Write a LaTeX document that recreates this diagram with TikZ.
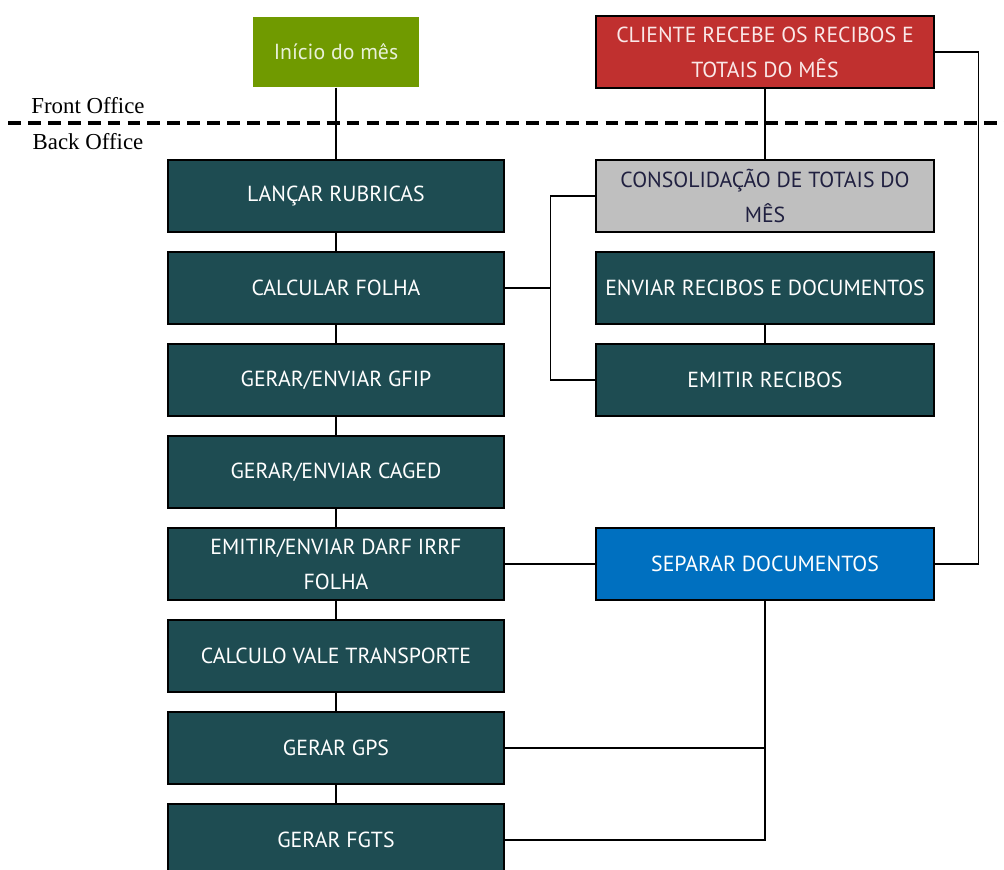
\documentclass[tikz,border=0pt]{standalone}
\usepackage{fontspec}
\setmainfont{Liberation Serif}
\newfontfamily\boxfont{PT Sans}
\definecolor{stageteal}{RGB}{30,76,82}
\definecolor{startgreen}{RGB}{112,154,0}
\definecolor{clientred}{RGB}{192,48,47}
\definecolor{sortblue}{RGB}{0,112,192}
\definecolor{sumgray}{RGB}{191,191,191}
\definecolor{sumtext}{RGB}{32,32,64}
\tikzset{
  stage/.style={draw=black, line width=1.2pt, fill=stageteal, text=white,
    minimum width=10.08cm, minimum height=2.16cm, inner sep=0pt, align=center,
    font=\boxfont\fontsize{18.6}{30}\selectfont},
  sidestage/.style={stage, minimum width=10.14cm},
  link/.style={line width=1.1pt},
}
\begin{document}
\begin{tikzpicture}[x=0.03cm, y=-0.03cm]
  \useasboundingbox (0,0) rectangle (1004,870);

  % front / back office split
  \draw[line width=3pt, dash pattern=on 11pt off 6pt] (8,123) -- (1004,123);
  \node[font=\fontsize{19.5}{22}\selectfont] (front) at (88,106) {Front Office};
  \node[font=\fontsize{19.5}{22}\selectfont] (back) at (88,142) {Back Office};

  \node[stage, draw=none, fill=startgreen, text={rgb,255:red,232;green,240;blue,216},
    minimum width=4.98cm, minimum height=2.1cm] (inicio) at (336,52) {Início do mês};
  \node[sidestage, fill=clientred, text={rgb,255:red,250;green,232;blue,232}] (cliente) at (765,52)
    {CLIENTE RECEBE OS RECIBOS E\\TOTAIS DO MÊS};

  % left column
  \node[stage] (lancar) at (336,196) {LANÇAR RUBRICAS};
  \node[stage] (calcular) at (336,288) {CALCULAR FOLHA};
  \node[stage] (gfip) at (336,380) {GERAR/ENVIAR GFIP};
  \node[stage] (caged) at (336,472) {GERAR/ENVIAR CAGED};
  \node[stage] (darf) at (336,564) {EMITIR/ENVIAR DARF IRRF\\FOLHA};
  \node[stage] (transporte) at (336,656) {CALCULO VALE TRANSPORTE};
  \node[stage] (gps) at (336,748) {GERAR GPS};
  \node[stage] (fgts) at (336,840) {GERAR FGTS};

  % right column
  \node[sidestage, fill=sumgray, text=sumtext] (consolid) at (765,196) {CONSOLIDAÇÃO DE TOTAIS DO\\MÊS};
  \node[sidestage] (enviar) at (765,288) {ENVIAR RECIBOS E DOCUMENTOS};
  \node[sidestage] (emitirrec) at (765,380) {EMITIR RECIBOS};
  \node[sidestage, fill=sortblue] (separar) at (765,564) {SEPARAR DOCUMENTOS};

  \foreach \a/\b in {inicio/lancar, lancar/calcular, calcular/gfip, gfip/caged,
      caged/darf, darf/transporte, transporte/gps, gps/fgts}
    \draw[link] (\a) -- (\b);

  \draw[link] (cliente) -- (consolid);
  \draw[link] (enviar) -- (emitirrec);
  \draw[link] (calcular.east) -- ++(46,0) coordinate (fork);
  \draw[link] (fork) |- (consolid.west);
  \draw[link] (fork) |- (emitirrec.west);
  \draw[link] (darf) -- (separar);
  \draw[link] (separar.east) -- ++(44,0) |- (cliente.east);
  \draw[link] (gps.east) -| (separar.south);
  \draw[link] (fgts.east) -| (separar.south);
\end{tikzpicture}
\end{document}
